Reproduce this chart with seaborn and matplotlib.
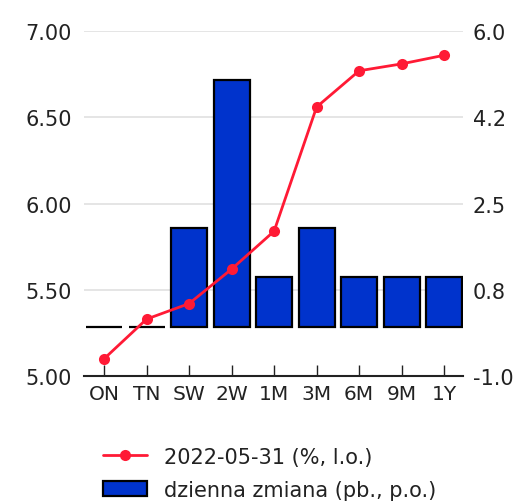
import numpy as np
import pandas as pd
import matplotlib
matplotlib.use("Agg")
import matplotlib.pyplot as plt
import seaborn as sns
from matplotlib.ticker import FormatStrFormatter, FixedLocator

tenors = ['ON', 'TN', 'SW', '2W', '1M', '3M', '6M', '9M', '1Y']
rates = [5.10, 5.33, 5.42, 5.62, 5.84, 6.56, 6.77, 6.81, 6.86]
change = [0, 0, 2, 5, 1, 2, 1, 1, 1]
line_label = '2022-05-31 (%, l.o.)'
bar_label = 'dzienna zmiana (pb., p.o.)'

sns.set_theme(style='white')
plt.rcParams['font.family'] = ['DejaVu Sans']
plt.rcParams['axes.unicode_minus'] = False
txt = '#222222'
fs = 15

fig = plt.figure(figsize=(5.13, 5.02), dpi=100)
ax = fig.add_axes([0.164, 0.249, 0.739, 0.687])

df = pd.DataFrame({'tenor': tenors, 'rate': rates, 'change': change})

# bars on main axes (right-side scale)
sns.barplot(data=df, x='tenor', y='change', ax=ax, color='#0033cc', saturation=1,
            edgecolor='black', linewidth=1.6, width=0.85, label=bar_label)
ax.set_ylim(-1, 6)
ax.yaxis.set_major_locator(FixedLocator(np.linspace(-1, 6, 5)))
ax.yaxis.set_major_formatter(FormatStrFormatter('%.1f'))
ax.grid(axis='y', color='#e0e0e0', linewidth=1.2)
ax.set_axisbelow(True)

ax2 = ax.twinx()
sns.lineplot(data=df, x='tenor', y='rate', ax=ax2, color='#ff1a35', marker='o',
             markersize=8, markeredgewidth=0, linewidth=2, label=line_label, sort=False)
ax2.set_ylim(5.0, 7.0)
ax2.yaxis.set_major_locator(FixedLocator([5.0, 5.5, 6.0, 6.5, 7.0]))
ax2.yaxis.set_major_formatter(FormatStrFormatter('%.2f'))
ax2.grid(False)

# place the scales: bars' scale on the right, line's scale on the left
ax.yaxis.tick_right()
ax2.yaxis.tick_left()

ax.set_xlim(-0.47, 8.45)
for a in (ax, ax2):
    a.set_xlabel('')
    a.set_ylabel('')
    for s in ['top', 'left', 'right', 'bottom']:
        a.spines[s].set_visible(False)
    a.tick_params(axis='y', length=0, labelsize=fs, labelcolor=txt, pad=9)
ax.tick_params(axis='y', pad=7)
ax.spines['bottom'].set_visible(True)
ax.spines['bottom'].set_color('#222222')
ax.spines['bottom'].set_linewidth(1.5)
ax.tick_params(axis='x', direction='in', length=8, width=1, color='#222222',
               labelsize=14.5, labelcolor=txt, pad=6, bottom=True)

if ax.get_legend():
    ax.get_legend().remove()
if ax2.get_legend():
    ax2.get_legend().remove()
h2, l2 = ax2.get_legend_handles_labels()
h1, l1 = ax.get_legend_handles_labels()
fig.legend(h2 + h1, l2 + l1, loc='upper left', bbox_to_anchor=(0.2, 0.108),
           frameon=False, fontsize=fs, labelcolor=txt, handlelength=2.15,
           handletextpad=0.8, labelspacing=0.62, borderaxespad=0, borderpad=0)

fig.savefig('out.png', dpi=100)
